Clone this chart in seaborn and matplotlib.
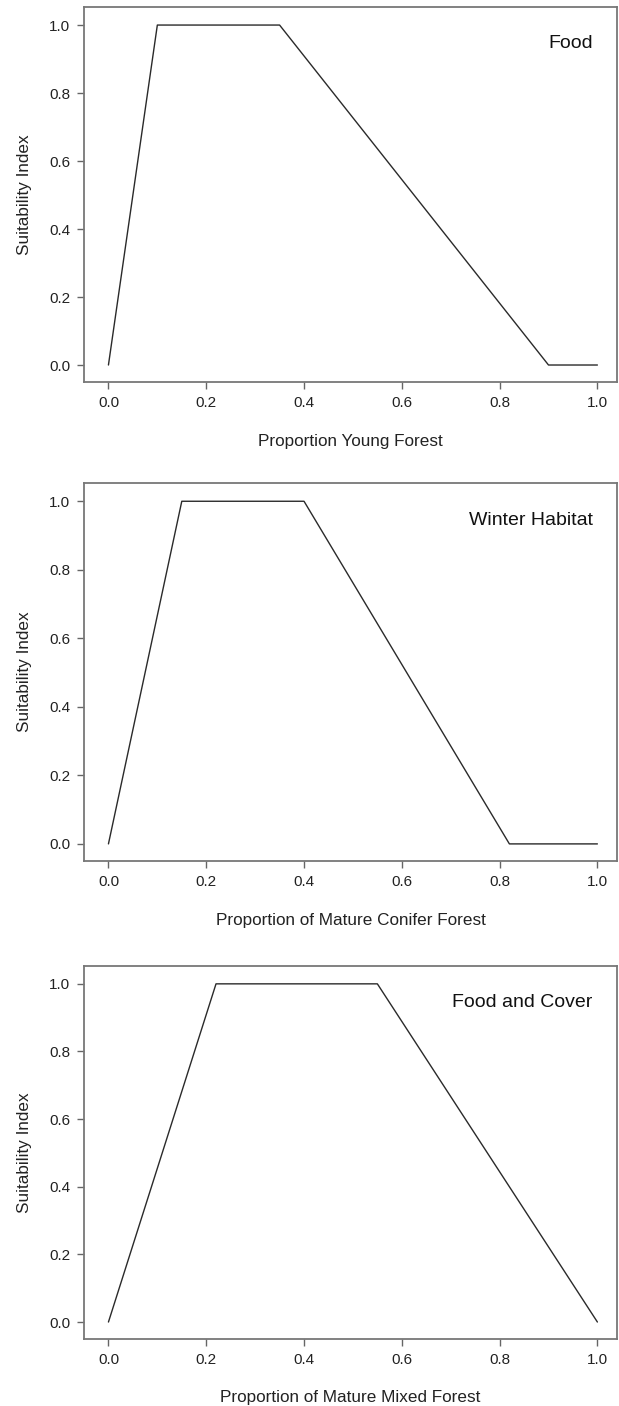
import pandas as pd
import seaborn as sns
import matplotlib.pyplot as plt

# breakpoints of the suitability curves
food_x = [0.0, 0.10, 0.35, 0.90, 1.0]
food_y = [0.0, 1.0, 1.0, 0.0, 0.0]
winter_x = [0.0, 0.15, 0.40, 0.82, 1.0]
winter_y = [0.0, 1.0, 1.0, 0.0, 0.0]
cover_x = [0.0, 0.22, 0.55, 1.0]
cover_y = [0.0, 1.0, 1.0, 0.0]

titles = ['Food', 'Winter Habitat', 'Food and Cover']
xlabels = ['Proportion Young Forest', 'Proportion of Mature Conifer Forest',
           'Proportion of Mature Mixed Forest']
ylabel = 'Suitability Index'
ticks = [0.0, 0.2, 0.4, 0.6, 0.8, 1.0]

sns.set_style('white')
plt.rcParams['font.family'] = ['Liberation Sans', 'DejaVu Sans']

fig = plt.figure(figsize=(6.19, 14.06), dpi=100)
boxes = [[0.1357, 0.7283, 0.861, 0.2667],
         [0.1357, 0.3876, 0.861, 0.2688],
         [0.1357, 0.0477, 0.861, 0.2653]]
curves = [(food_x, food_y), (winter_x, winter_y), (cover_x, cover_y)]

for box, (xs, ys), title, xl in zip(boxes, curves, titles, xlabels):
    ax = fig.add_axes(box)
    df = pd.DataFrame({'x': xs, 'y': ys})
    sns.lineplot(data=df, x='x', y='y', ax=ax, color='#2a2a2a', linewidth=1.0,
                 sort=False, estimator=None)
    ax.set_xlim(-0.05, 1.04)
    ax.set_ylim(-0.05, 1.053)
    ax.set_xticks(ticks)
    ax.set_yticks(ticks)
    ax.set_xticklabels([f'{t:.1f}' for t in ticks])
    ax.set_yticklabels([f'{t:.1f}' for t in ticks])
    ax.tick_params(axis='both', direction='out', length=5, width=1.0,
                   color='#666666', labelsize=11, labelcolor='#222222',
                   bottom=True, left=True, pad=5)
    for s in ax.spines.values():
        s.set_color('#777777')
        s.set_linewidth(1.3)
    ax.set_xlabel(xl, fontsize=12.3, color='#222222', labelpad=17)
    ax.set_ylabel(ylabel, fontsize=12.3, color='#222222', labelpad=12)
    ax.text(0.99, 0.945, title, ha='right', va='center', fontsize=14,
            color='#111111', transform=ax.transData)

fig.savefig('out.png', dpi=100)
